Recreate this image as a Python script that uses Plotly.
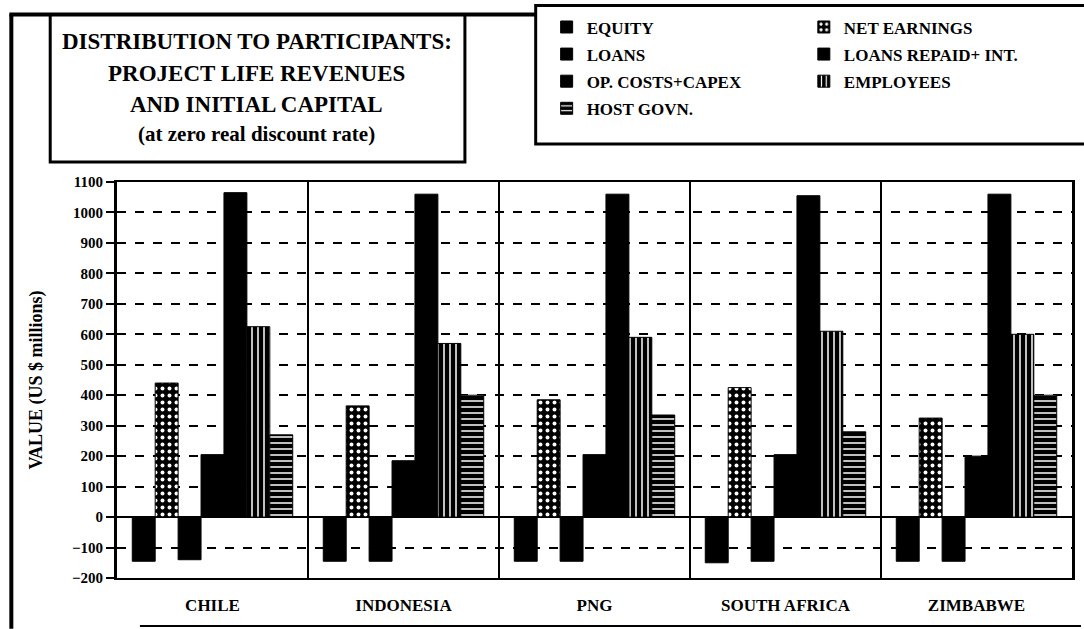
import plotly.graph_objects as go

countries = ["CHILE", "INDONESIA", "PNG", "SOUTH AFRICA", "ZIMBABWE"]
equity = [-145, -145, -145, -150, -145]
net_earnings = [440, 365, 385, 425, 325]
loans = [-140, -145, -145, -145, -145]
loans_repaid = [205, 185, 205, 205, 200]
op_costs = [1065, 1060, 1060, 1055, 1060]
employees = [625, 570, 590, 610, 600]
host_govn = [270, 400, 335, 280, 400]

y_ticks = list(range(-200, 1101, 100))

FONT = "Liberation Serif"
W, H = 1084, 629
L, R, T, B = 117, 9, 181, 51
PW, PH = W - L - R, H - T - B


def px(x):
    return (x - L) / PW


def py(y):
    return (H - B - y) / PH


series = [
    ("EQUITY", equity, None, "legend"),
    ("NET EARNINGS", net_earnings, ".", "legend2"),
    ("LOANS", loans, None, "legend"),
    ("LOANS REPAID+ INT.", loans_repaid, None, "legend2"),
    ("OP. COSTS+CAPEX", op_costs, None, "legend"),
    ("EMPLOYEES", employees, "|", "legend2"),
    ("HOST GOVN.", host_govn, "-", "legend"),
]

fig = go.Figure()
for i, (name, vals, pat, leg) in enumerate(series):
    marker = dict(color="black", line=dict(color="black", width=1))
    if pat:
        marker["pattern"] = dict(shape=pat, fgcolor="white", bgcolor="black",
                                 size=7 if pat == "." else 6, solidity=0.25,
                                 fillmode="replace")
    fig.add_trace(go.Bar(x=countries, y=vals, name=name, marker=marker,
                         legend=leg, legendgroup=name))

legfont = dict(family=FONT, size=17, color="black", weight="bold")
fig.update_layout(
    width=W, height=H,
    margin=dict(l=L, r=R, t=T, b=B),
    paper_bgcolor="white", plot_bgcolor="white",
    barmode="group", bargap=0.16, bargroupgap=0,
    font=dict(family=FONT, color="black"),
    legend=dict(x=px(548), y=py(8), xanchor="left", yanchor="top",
                font=legfont, bgcolor="rgba(0,0,0,0)", tracegroupgap=2,
                itemwidth=30),
    legend2=dict(x=px(806), y=py(8), xanchor="left", yanchor="top",
                 font=legfont, bgcolor="rgba(0,0,0,0)", tracegroupgap=2,
                 itemwidth=30),
    xaxis=dict(
        tickson="boundaries", showgrid=True, gridcolor="black", gridwidth=2,
        showline=True, linecolor="black", linewidth=2, mirror=True,
        ticks="", ticklabelstandoff=11,
        tickfont=dict(family=FONT, size=17, color="black", weight="bold"),
    ),
    yaxis=dict(
        range=[-200, 1100], tickvals=y_ticks, showgrid=True,
        gridcolor="black", gridwidth=2, griddash="dash",
        zeroline=True, zerolinecolor="black", zerolinewidth=2,
        showline=True, linecolor="black", linewidth=3, mirror=True,
        ticks="outside", ticklen=8, tickwidth=2, tickcolor="black",
        tickfont=dict(family=FONT, size=15, color="black", weight="bold"),
        title=dict(text="VALUE (US $ millions)", standoff=25,
                   font=dict(family=FONT, size=18, color="black", weight="bold")),
    ),
)

shapes = [
    # title box
    dict(type="rect", xref="paper", yref="paper", x0=px(50), x1=px(466),
         y0=py(161), y1=py(13), line=dict(color="black", width=3)),
    # legend box
    dict(type="rect", xref="paper", yref="paper", x0=px(537), x1=px(1090),
         y0=py(143), y1=py(4), line=dict(color="black", width=3)),
    # outer frame top
    dict(type="line", xref="paper", yref="paper", x0=px(9), x1=px(537),
         y0=py(13), y1=py(13), line=dict(color="black", width=4)),
    # outer frame left
    dict(type="line", xref="paper", yref="paper", x0=px(11), x1=px(11),
         y0=py(13), y1=py(629), line=dict(color="black", width=4)),
    # outer frame bottom
    dict(type="line", xref="paper", yref="paper", x0=px(140), x1=px(1084),
         y0=py(626), y1=py(626), line=dict(color="black", width=2)),
]
fig.update_layout(shapes=shapes)

title_lines = [
    ("DISTRIBUTION TO PARTICIPANTS:", 40, 23),
    ("PROJECT LIFE REVENUES", 72, 23),
    ("AND INITIAL CAPITAL", 103, 23),
    ("(at zero real discount rate)", 133, 21),
]
for txt, yy, sz in title_lines:
    fig.add_annotation(text=txt, xref="paper", yref="paper", x=px(257),
                       y=py(yy), xanchor="center", yanchor="middle",
                       showarrow=False,
                       font=dict(family=FONT, size=sz, color="black",
                                 weight="bold"))

fig.write_html("out.html", config={"displayModeBar": False},
               post_script="document.body.style.margin='0';document.body.style.padding='0';")
